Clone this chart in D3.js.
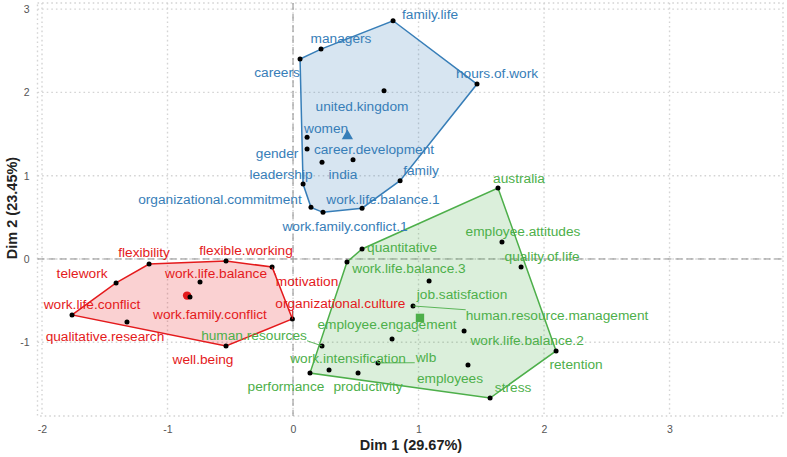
<!DOCTYPE html>
<html>
<head>
<meta charset="utf-8">
<script src="https://d3js.org/d3.v7.min.js"></script>
<style>
  body { margin: 0; background: #fff; }
  text { font-family: "Liberation Sans", Arial, sans-serif; }
</style>
</head>
<body>
<script>
// terms and their position on the first two dimensions
var terms = [
  "careers", "managers", "family.life", "hours.of.work", "united.kingdom", "women", "gender",
  "career.development", "india", "leadership", "organizational.commitment", "work.family.conflict.1",
  "work.life.balance.1", "family",
  "flexibility", "flexible.working", "motivation", "telework", "work.life.balance", "work.family.conflict",
  "work.life.conflict", "qualitative.research", "organizational.culture", "well.being",
  "australia", "employee.attitudes", "quality.of.life", "quantitative", "work.life.balance.3",
  "job.satisfaction", "human.resource.management", "employee.engagement", "work.life.balance.2",
  "retention", "stress", "employees", "wlb", "work.intensification", "human.resources",
  "performance", "productivity"
];
var dim1 = [
  0.056, 0.223, 0.797, 1.466, 0.725, 0.112, 0.112, 0.231, 0.478, 0.080, 0.143, 0.239, 0.550, 0.853,
  -1.147, -0.534, -0.167, -1.410, -0.741, -0.821, -1.761, -1.323, -0.005, -0.534,
  1.633, 1.665, 1.817, 0.550, 0.430, 1.084, 0.956, 0.789, 1.363, 2.096, 1.570, 1.394, 0.677,
  0.287, 0.231, 0.135, 0.518
];
var dim2 = [
  2.40, 2.52, 2.86, 2.10, 2.02, 1.46, 1.32, 1.16, 1.19, 0.90, 0.62, 0.56, 0.61, 0.94,
  -0.060, -0.024, -0.096, -0.288, -0.276, -0.456, -0.672, -0.756, -0.720, -1.044,
  0.852, 0.204, -0.096, 0.120, -0.036, -0.264, -0.564, -0.960, -0.864, -1.104, -1.669, -1.273,
  -1.248, -1.333, -1.044, -1.369, -1.369
];
// 1 = red, 2 = blue, 3 = green
var cluster = [
  2, 2, 2, 2, 2, 2, 2, 2, 2, 2, 2, 2, 2, 2,
  1, 1, 1, 1, 1, 1, 1, 1, 1, 1,
  3, 3, 3, 3, 3, 3, 3, 3, 3, 3, 3, 3, 3, 3, 3, 3, 3
];

var clusterIds = [1, 2, 3];
var clusterColors = ["#E41A1C", "#377EB8", "#4DAF4A"];
var xTicks = [-2, -1, 0, 1, 2, 3];
var yTicks = [-1, 0, 1, 2, 3];
var xTitle = "Dim 1 (29.67%)";
var yTitle = "Dim 2 (23.45%)";

// where the repelled labels ended up, pixels from their point
var labelShift = {
  "careers": [-23, 13], "managers": [20, -11], "family.life": [37, -7], "hours.of.work": [20, -11],
  "united.kingdom": [-22, 15], "women": [19, -9], "gender": [-30, 4], "career.development": [52, -13],
  "india": [-10, 14], "leadership": [-22, -10], "organizational.commitment": [-91, -8],
  "work.family.conflict.1": [22, 14], "work.life.balance.1": [21, -9], "family": [21, -10],
  "flexibility": [-5, -12], "flexible.working": [20, -11], "motivation": [35, 14], "telework": [-34, -10],
  "work.life.balance": [16, -9], "work.family.conflict": [20, 17], "work.life.conflict": [20, -11],
  "qualitative.research": [-22, 14], "organizational.culture": [48, -16], "well.being": [-23, 13],
  "australia": [21, -10], "employee.attitudes": [21, -11], "quality.of.life": [21, -11],
  "quantitative": [40, -2], "work.life.balance.3": [62, 6], "job.satisfaction": [33, 13],
  "human.resource.management": [144, 9], "employee.engagement": [-5, -15], "work.life.balance.2": [63, 9],
  "retention": [20, 13], "stress": [23, -11], "employees": [-18, 13], "wlb": [48, -6],
  "work.intensification": [19, -12], "human.resources": [-68, -11], "performance": [-24, 13],
  "productivity": [10, 13]
};
// labels that got a connecting segment
var labelLines = ["motivation", "organizational.culture", "human.resources", "human.resource.management", "wlb"];

var width = 787, height = 457;
var svg = d3.select("body").append("svg")
  .attr("width", width)
  .attr("height", height);

var pLeft = 37.5, pRight = 783, pTop = 3, pBottom = 416;
var x = d3.scaleLinear().domain([-2.036, 3.904]).range([pLeft, pRight]);
var y = d3.scaleLinear().domain([-1.885, 3.073]).range([pBottom, pTop]);

var color = d3.scaleOrdinal().domain(clusterIds).range(clusterColors);

var rows = terms.map(function (t, i) {
  return { term: t, d1: dim1[i], d2: dim2[i], cl: cluster[i] };
});

//网格 (dotted grid and panel border)
var grid = svg.append("g")
  .attr("stroke", "#d4d4d4")
  .attr("stroke-width", 1.4)
  .attr("stroke-dasharray", "1.6,3");
grid.selectAll(".gx").data(xTicks).enter().append("line")
  .attr("x1", function (d) { return x(d); })
  .attr("x2", function (d) { return x(d); })
  .attr("y1", pTop)
  .attr("y2", pBottom);
grid.selectAll(".gy").data(yTicks).enter().append("line")
  .attr("x1", pLeft)
  .attr("x2", pRight)
  .attr("y1", function (d) { return y(d); })
  .attr("y2", function (d) { return y(d); });
grid.append("rect")
  .attr("x", pLeft)
  .attr("y", pTop)
  .attr("width", pRight - pLeft)
  .attr("height", pBottom - pTop)
  .attr("fill", "none");

//零线
svg.append("line")
  .attr("x1", x(0)).attr("x2", x(0))
  .attr("y1", pTop).attr("y2", pBottom)
  .attr("stroke", "#8f8f8f")
  .attr("stroke-dasharray", "7,4");
svg.append("line")
  .attr("x1", pLeft).attr("x2", pRight)
  .attr("y1", y(0)).attr("y2", y(0))
  .attr("stroke", "#8f8f8f")
  .attr("stroke-dasharray", "7,4");

//凸包
clusterIds.forEach(function (c) {
  var pts = rows.filter(function (r) { return r.cl === c; })
    .map(function (r) { return [x(r.d1), y(r.d2)]; });
  var hull = d3.polygonHull(pts);
  svg.append("path")
    .attr("d", "M" + hull.join("L") + "Z")
    .attr("fill", color(c))
    .attr("fill-opacity", 0.2)
    .attr("stroke", color(c))
    .attr("stroke-width", 1.5);
});

//中心点
var shapes = { 1: d3.symbolCircle, 2: d3.symbolTriangle, 3: d3.symbolSquare };
var shapeSize = { 1: 55, 2: 55, 3: 70 };
clusterIds.forEach(function (c) {
  var members = rows.filter(function (r) { return r.cl === c; });
  var cx = d3.mean(members, function (r) { return r.d1; });
  var cy = d3.mean(members, function (r) { return r.d2; });
  svg.append("path")
    .attr("d", d3.symbol().type(shapes[c]).size(shapeSize[c])())
    .attr("transform", "translate(" + x(cx) + "," + y(cy) + ")")
    .attr("fill", color(c));
});

//点
svg.selectAll(".pt").data(rows).enter().append("circle")
  .attr("cx", function (d) { return x(d.d1); })
  .attr("cy", function (d) { return y(d.d2); })
  .attr("r", 2.5)
  .attr("fill", "#000");

//标签
var segs = svg.append("g");
var labels = svg.append("g")
  .attr("font-size", "13.7px")
  .attr("text-anchor", "middle");
rows.forEach(function (d) {
  var px = x(d.d1), py = y(d.d2);
  var s = labelShift[d.term];
  var t = labels.append("text")
    .attr("x", px + s[0])
    .attr("y", py + s[1])
    .attr("dy", "0.35em")
    .attr("fill", color(d.cl))
    .text(d.term);
  if (labelLines.indexOf(d.term) >= 0) {
    var b = t.node().getBBox();
    var ex = Math.max(b.x, Math.min(px, b.x + b.width));
    var ey = Math.max(b.y + 2, Math.min(py, b.y + b.height - 2));
    segs.append("line")
      .attr("x1", px).attr("y1", py)
      .attr("x2", ex).attr("y2", ey)
      .attr("stroke", color(d.cl))
      .attr("stroke-width", 0.9);
  }
});

//坐标轴
var fmt = function (d) { return String(d); };
var xAxis = svg.append("g")
  .attr("transform", "translate(0," + pBottom + ")")
  .call(d3.axisBottom(x).tickValues(xTicks).tickSize(0).tickPadding(10).tickFormat(fmt));
var yAxis = svg.append("g")
  .attr("transform", "translate(" + pLeft + ",0)")
  .call(d3.axisLeft(y).tickValues(yTicks).tickSize(0).tickPadding(8).tickFormat(fmt));
[xAxis, yAxis].forEach(function (a) {
  a.select(".domain").remove();
  a.selectAll("text")
    .attr("fill", "#555")
    .style("font-size", "10.5px")
    .style("font-family", "'Liberation Sans', Arial, sans-serif");
});

svg.append("text")
  .attr("x", 411)
  .attr("y", 450)
  .attr("text-anchor", "middle")
  .attr("font-size", "14.5px")
  .attr("font-weight", "bold")
  .attr("fill", "#222")
  .text(xTitle);
svg.append("text")
  .attr("transform", "translate(17,208) rotate(-90)")
  .attr("text-anchor", "middle")
  .attr("font-size", "14.5px")
  .attr("font-weight", "bold")
  .attr("fill", "#222")
  .text(yTitle);
</script>
</body>
</html>
